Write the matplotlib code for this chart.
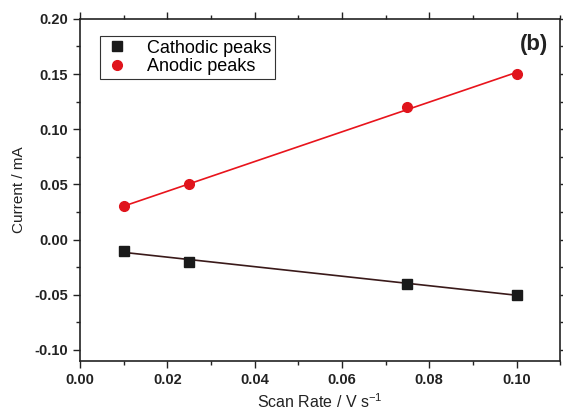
import numpy as np
import matplotlib
matplotlib.use("Agg")
import matplotlib.pyplot as plt
from matplotlib.ticker import MultipleLocator

plt.rcParams['font.family'] = ['Liberation Sans', 'DejaVu Sans']
plt.rcParams['mathtext.fontset'] = 'custom'
plt.rcParams['mathtext.rm'] = 'Liberation Sans'
plt.rcParams['mathtext.default'] = 'regular'

scan_rate = [0.01, 0.025, 0.075, 0.10]
cathodic = [-0.01, -0.02, -0.04, -0.05]
anodic = [0.03, 0.05, 0.12, 0.15]

fig = plt.figure(figsize=(5.63, 4.11), dpi=100)
ax = fig.add_axes([0.142, 0.122, 0.853, 0.832])

# linear fits through the peak currents
xs = np.array([scan_rate[0], scan_rate[-1]])
kc = np.polyfit(scan_rate, cathodic, 1)
ka = np.polyfit(scan_rate, anodic, 1)
ax.plot(xs, np.polyval(kc, xs), color='#3a1a1a', lw=1.2)
ax.plot(xs, np.polyval(ka, xs), color='#e8141c', lw=1.2)

ax.plot(scan_rate, cathodic, 's', color='#1a1a1a', ms=6.5, ls='none', label='Cathodic peaks')
ax.plot(scan_rate, anodic, 'o', color='#e0141c', ms=7, ls='none', label='Anodic peaks')

ax.set_xlim(0, 0.11)
ax.set_ylim(-0.11, 0.20)
ax.xaxis.set_minor_locator(MultipleLocator(0.01))
ax.yaxis.set_minor_locator(MultipleLocator(0.025))
ax.set_xticks([0, 0.02, 0.04, 0.06, 0.08, 0.10])
ax.set_xticklabels(['0.00', '0.02', '0.04', '0.06', '0.08', '0.10'])
ax.set_yticks([-0.10, -0.05, 0.0, 0.05, 0.10, 0.15, 0.20])
ax.set_yticklabels(['-0.10', '-0.05', '0.00', '0.05', '0.10', '0.15', '0.20'])

ax.tick_params(which='both', direction='out', top=True, right=True,
               labeltop=False, labelright=False, width=1.0, color='#222222')
ax.tick_params(which='major', length=5, labelsize=10.5)
ax.tick_params(which='minor', length=3)
for lab in ax.get_xticklabels() + ax.get_yticklabels():
    lab.set_fontweight('bold')
    lab.set_color('#222222')
for s in ax.spines.values():
    s.set_linewidth(1.2)
    s.set_color('#222222')

ax.set_xlabel('Scan Rate / V s$^{-1}$', fontsize=11.5, color='#222222', labelpad=4)
ax.set_ylabel('Current / mA', fontsize=11, color='#222222', labelpad=6)

leg = ax.legend(loc='upper left', bbox_to_anchor=(0.042, 0.95), fontsize=13,
                fancybox=False, edgecolor='#333333', framealpha=1,
                handletextpad=0.9, borderpad=0.2, labelspacing=0.1,
                handlelength=1.5, borderaxespad=0)
leg.get_frame().set_linewidth(0.8)

ax.text(0.975, 0.955, '(b)', transform=ax.transAxes, ha='right', va='top',
        fontsize=16, fontweight='bold', color='#222222')

fig.savefig('out.png', dpi=100)
